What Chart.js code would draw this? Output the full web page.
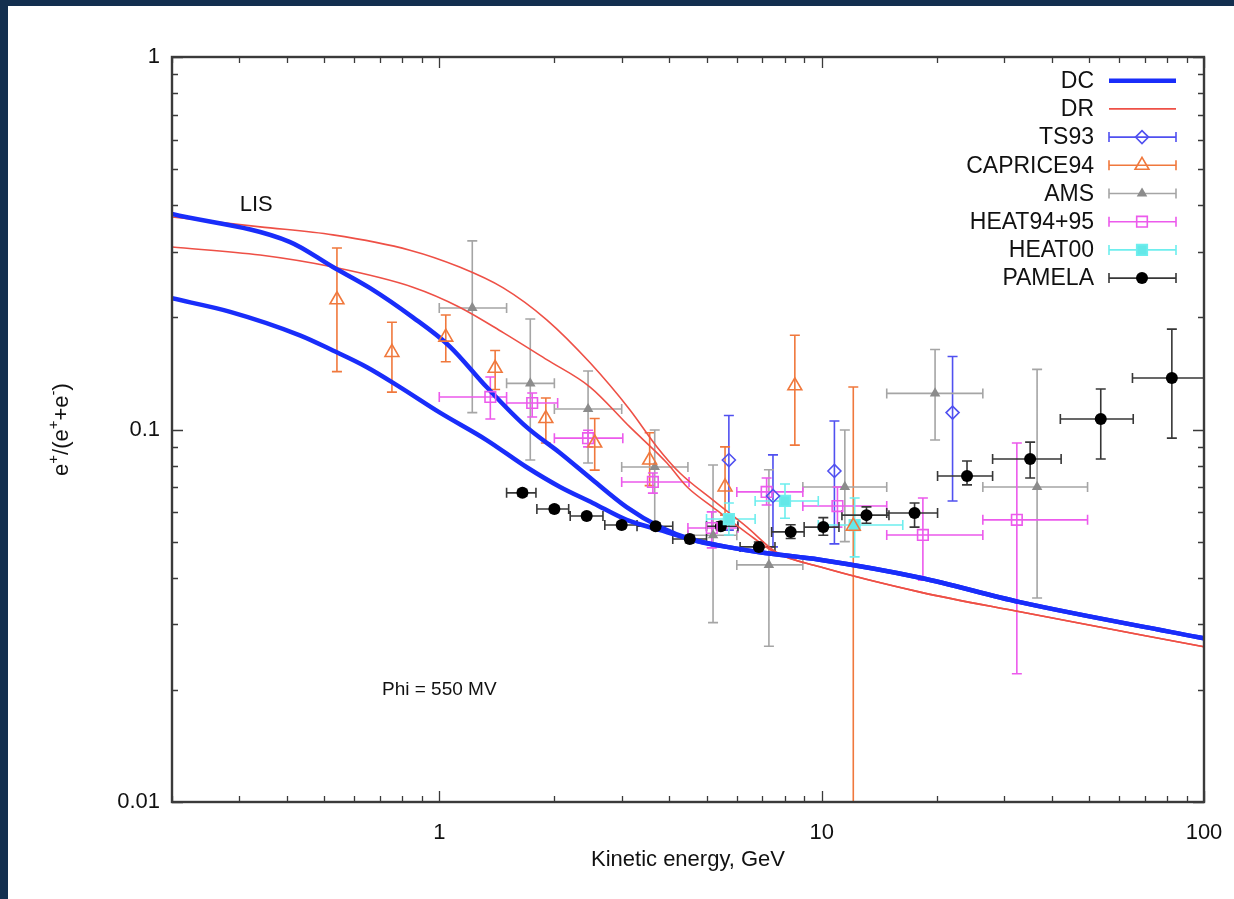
<!DOCTYPE html>
<html>
<head>
<meta charset="utf-8">
<script src="https://cdn.jsdelivr.net/npm/chart.js@4/dist/chart.umd.min.js"></script>
<style>
  html, body { margin: 0; padding: 0; background: #fff; }
</style>
</head>
<body>
<canvas id="chart" width="1234" height="899"></canvas>
<script>
/** DATA */

// model curves: [kinetic energy GeV, e+/(e+ + e-)]
const dcLis = [[0.2, 0.379], [0.406, 0.319], [0.527, 0.273], [0.658, 0.240], [0.853, 0.200], [1.066, 0.167],
    [1.33, 0.130], [1.69, 0.1016], [2.07, 0.0865], [2.52, 0.0732], [3.09, 0.0619], [3.78, 0.0547],
    [4.61, 0.0505], [5.65, 0.0484], [6.89, 0.0468], [9.89, 0.0447], [18.1, 0.0400], [33.0, 0.0344], [100, 0.0275]];
const dcMod = [[0.2, 0.225], [0.284, 0.207], [0.432, 0.179], [0.527, 0.163], [0.647, 0.147], [0.789, 0.130],
    [1.004, 0.111], [1.33, 0.0937], [1.69, 0.0793], [2.07, 0.0701], [2.52, 0.0635], [3.09, 0.0572],
    [3.78, 0.0537], [4.61, 0.0505], [5.65, 0.0484], [6.89, 0.0468], [9.89, 0.0447], [18.1, 0.0400], [33.0, 0.0344], [100, 0.0275]];
const drLis = [[0.2, 0.372], [0.34, 0.350], [0.527, 0.333], [0.838, 0.303], [1.13, 0.273], [1.47, 0.240],
    [1.91, 0.197], [2.48, 0.151], [3.15, 0.113], [3.71, 0.0898], [4.26, 0.0764], [5.19, 0.0647],
    [6.38, 0.0547], [7.6, 0.0469], [9.89, 0.0428], [18.1, 0.0366], [33.0, 0.0324], [100, 0.0261]];
const drMod = [[0.2, 0.309], [0.34, 0.294], [0.527, 0.273], [0.853, 0.241], [1.13, 0.213], [1.47, 0.182],
    [1.91, 0.154], [2.48, 0.130], [3.15, 0.1016], [3.94, 0.0813], [4.45, 0.0701], [5.19, 0.0619],
    [6.38, 0.0527], [7.6, 0.0466], [9.89, 0.0428], [18.1, 0.0366], [33.0, 0.0324], [100, 0.0261]];

// measurements: [E, ratio, E low, E high, ratio low, ratio high]
const ts93 = [
    [5.72, 0.0828, null, null, 0.0537, 0.109],
    [7.46, 0.0663, null, null, 0.0484, 0.0855],
    [10.8, 0.0774, null, null, 0.0493, 0.1054],
    [22.0, 0.111, null, null, 0.0643, 0.157]
];
const caprice94 = [
    [0.540, 0.223, null, null, 0.143, 0.307],
    [0.752, 0.161, null, null, 0.126, 0.194],
    [1.04, 0.177, null, null, 0.152, 0.203],
    [1.40, 0.146, null, null, 0.128, 0.163],
    [1.90, 0.107, null, null, 0.092, 0.1215],
    [2.55, 0.092, null, null, 0.0778, 0.107],
    [3.55, 0.0828, null, null, 0.0707, 0.098],
    [5.59, 0.0701, null, null, 0.0589, 0.0898],
    [8.51, 0.131, null, null, 0.0908, 0.179],
    [12.1, 0.055, null, null, 0.005, 0.130]
];
const ams = [
    [1.22, 0.212, 1.0, 1.5, 0.111, 0.321],
    [1.73, 0.133, 1.5, 2.0, 0.0828, 0.198],
    [2.45, 0.1135, 2.0, 3.0, 0.0813, 0.1436],
    [3.66, 0.0793, 3.0, 4.47, 0.0547, 0.0997],
    [5.2, 0.052, 4.47, 6.0, 0.0303, 0.0803],
    [7.28, 0.0433, 6.0, 8.93, 0.0262, 0.078],
    [11.5, 0.0701, 8.93, 14.8, 0.05, 0.0997],
    [19.8, 0.125, 14.8, 26.4, 0.0937, 0.164],
    [36.6, 0.0701, 26.4, 49.6, 0.0353, 0.145]
];
const heat9495 = [
    [1.36, 0.1223, 1.0, 1.5, 0.1067, 0.1384],
    [1.75, 0.1178, 1.5, 2.04, 0.108, 0.1253],
    [2.45, 0.0948, 2.0, 3.02, 0.0898, 0.0995],
    [3.62, 0.0723, 3.0, 4.5, 0.0675, 0.0764],
    [5.16, 0.0544, 4.47, 6.04, 0.0481, 0.0601],
    [7.18, 0.068, 6.0, 8.93, 0.0627, 0.0741],
    [11.0, 0.0623, 8.93, 14.8, 0.0547, 0.0701],
    [18.4, 0.0521, 14.8, 26.4, 0.0394, 0.0655],
    [32.4, 0.0572, 26.4, 49.6, 0.0221, 0.092]
];
const heat00 = [
    [5.72, 0.0575, 5.0, 6.7, 0.0521, 0.0635],
    [8.02, 0.0643, 6.7, 9.8, 0.0578, 0.0714],
    [12.2, 0.0554, 9.8, 16.3, 0.0455, 0.0655]
];
const pamela = [
    [1.65, 0.0676, 1.5, 1.79, 0.0662, 0.069],
    [2.0, 0.0612, 1.8, 2.18, 0.0601, 0.0624],
    [2.43, 0.0586, 2.2, 2.68, 0.0576, 0.0597],
    [3.0, 0.0554, 2.71, 3.29, 0.0544, 0.0565],
    [3.68, 0.055, 3.29, 4.08, 0.0539, 0.0562],
    [4.52, 0.0508, 4.08, 5.0, 0.0497, 0.052],
    [5.45, 0.055, 5.0, 6.04, 0.0537, 0.0564],
    [6.85, 0.0484, 6.12, 7.55, 0.047, 0.0499],
    [8.3, 0.0531, 7.4, 9.0, 0.051, 0.0555],
    [10.1, 0.0547, 9.0, 11.1, 0.052, 0.058],
    [13.1, 0.0589, 11.3, 15.0, 0.056, 0.062],
    [17.5, 0.0597, 14.8, 20.1, 0.0547, 0.0635],
    [24.0, 0.075, 20.1, 28.0, 0.071, 0.0823],
    [35.1, 0.0833, 28.0, 42.3, 0.0741, 0.0925],
    [53.7, 0.1067, 42.1, 65.3, 0.0833, 0.1285],
    [82.4, 0.1375, 65.0, 110, 0.0948, 0.186]
];

// axis ranges and labelled ticks
const xRange = [0.2, 100];
const yRange = [0.01, 1];
const xTickLabels = [1, 10, 100];
const yTickLabels = [0.01, 0.1, 1];

const FONT = "'Liberation Sans', Arial, Helvetica, sans-serif";

/** DATASETS */

const curve = (label, rows, color, width, inLegend) => ({
    label,
    data: rows.map(([x, y]) => ({ x, y })),
    showLine: true,
    borderColor: color,
    borderWidth: width,
    pointRadius: 0,
    cubicInterpolationMode: 'monotone',
    order: 2,
    inLegend
});

const measured = (label, rows, barColor, pointStyle, radius, fill) => ({
    label,
    data: rows.map(r => ({ x: r[0], y: r[1] })),
    errors: rows,
    barColor,
    pointStyle,
    pointRadius: radius,
    pointHoverRadius: radius,
    pointBorderWidth: 1.6,
    borderColor: barColor,
    backgroundColor: fill,
    order: 1,
    inLegend: true
});

const datasets = [
    curve('DC', dcLis, 'rgb(25,45,250)', 4.5, true),
    curve('DC', dcMod, 'rgb(25,45,250)', 4.5, false),
    curve('DR', drLis, 'rgb(238,80,70)', 1.6, true),
    curve('DR', drMod, 'rgb(238,80,70)', 1.6, false),
    measured('TS93', ts93, 'rgb(80,80,240)', 'rectRot', 6.5, 'rgba(0,0,0,0)'),
    measured('CAPRICE94', caprice94, 'rgb(240,120,60)', 'triangle', 8, 'rgba(0,0,0,0)'),
    measured('AMS', ams, 'rgb(165,165,165)', 'triangle', 4.5, 'rgb(140,140,140)'),
    measured('HEAT94+95', heat9495, 'rgb(236,90,236)', 'rect', 7.5, 'rgba(0,0,0,0)'),
    measured('HEAT00', heat00, 'rgb(110,238,238)', 'rect', 7.5, 'rgb(100,232,232)'),
    measured('PAMELA', pamela, 'rgb(55,55,55)', 'circle', 6, 'rgb(0,0,0)')
];
datasets[datasets.length - 1].pointBorderWidth = 0;
datasets[datasets.length - 4].borderColor = 'rgb(140,140,140)';

/** PLUGINS */

const isDecade = (v, list) => list.some(t => Math.abs(Math.log10(v) - Math.log10(t)) < 1e-6);

const background = {
    id: 'background',
    beforeDraw(chart) {
        const ctx = chart.ctx;
        ctx.save();
        ctx.fillStyle = '#ffffff';
        ctx.fillRect(0, 0, chart.width, chart.height);
        ctx.fillStyle = '#132f4f';
        ctx.fillRect(0, 0, chart.width, 6);
        ctx.fillRect(0, 0, 8, chart.height);
        ctx.restore();
    }
};

const errorBars = {
    id: 'errorBars',
    beforeDatasetsDraw(chart) {
        const { ctx, chartArea: a, scales: { x, y } } = chart;
        const cap = 5;
        ctx.save();
        ctx.beginPath();
        ctx.rect(a.left, a.top, a.right - a.left, a.bottom - a.top);
        ctx.clip();
        ctx.lineWidth = 1.6;
        chart.data.datasets.forEach(ds => {
            if (!ds.errors) return;
            ctx.strokeStyle = ds.barColor;
            ctx.beginPath();
            ds.errors.forEach(([e, r, eLo, eHi, rLo, rHi]) => {
                const px = x.getPixelForValue(e);
                const py = y.getPixelForValue(r);
                const top = y.getPixelForValue(rHi);
                const bottom = y.getPixelForValue(rLo);
                ctx.moveTo(px, top); ctx.lineTo(px, bottom);
                ctx.moveTo(px - cap, top); ctx.lineTo(px + cap, top);
                ctx.moveTo(px - cap, bottom); ctx.lineTo(px + cap, bottom);
                if (eLo !== null) {
                    const left = x.getPixelForValue(eLo);
                    const right = x.getPixelForValue(eHi);
                    ctx.moveTo(left, py); ctx.lineTo(right, py);
                    ctx.moveTo(left, py - cap); ctx.lineTo(left, py + cap);
                    ctx.moveTo(right, py - cap); ctx.lineTo(right, py + cap);
                }
            });
            ctx.stroke();
        });
        ctx.restore();
    }
};

const frameTicks = {
    id: 'frameTicks',
    afterDraw(chart) {
        const { ctx, chartArea: a, scales: { x, y } } = chart;
        ctx.save();
        ctx.strokeStyle = '#3a3a3a';
        ctx.lineWidth = 1.3;
        ctx.beginPath();
        for (let k = -2; k <= 2; k++) {
            for (let m = 1; m <= 9; m++) {
                const v = m * Math.pow(10, k);
                const len = m === 1 ? 11 : 6;
                if (v >= xRange[0] * 0.999 && v <= xRange[1] * 1.001) {
                    const px = Math.round(x.getPixelForValue(v)) + 0.5;
                    ctx.moveTo(px, a.bottom); ctx.lineTo(px, a.bottom - len);
                    ctx.moveTo(px, a.top); ctx.lineTo(px, a.top + len);
                }
                if (v >= yRange[0] * 0.999 && v <= yRange[1] * 1.001) {
                    const py = Math.round(y.getPixelForValue(v)) + 0.5;
                    ctx.moveTo(a.left, py); ctx.lineTo(a.left + len, py);
                    ctx.moveTo(a.right, py); ctx.lineTo(a.right - len, py);
                }
            }
        }
        ctx.stroke();
        ctx.lineWidth = 2.4;
        ctx.strokeRect(a.left, a.top, a.right - a.left, a.bottom - a.top);
        ctx.restore();
    }
};

const drawMarker = (ctx, ds, px, py) => {
    ctx.fillStyle = ds.backgroundColor;
    ctx.strokeStyle = ds.borderColor;
    const opts = { pointStyle: ds.pointStyle, radius: ds.pointRadius, borderWidth: ds.pointBorderWidth, rotation: 0 };
    if (Chart.helpers && Chart.helpers.drawPoint) {
        ctx.lineWidth = ds.pointBorderWidth;
        Chart.helpers.drawPoint(ctx, opts, px, py);
    }
};

const legend = {
    id: 'customLegend',
    afterDraw(chart) {
        const ctx = chart.ctx;
        const textRight = 1094, lineLeft = 1109, lineRight = 1176, mid = 1142;
        let row = 0;
        ctx.save();
        ctx.font = `23px ${FONT}`;
        ctx.textAlign = 'right';
        ctx.textBaseline = 'middle';
        chart.data.datasets.forEach(ds => {
            if (!ds.inLegend) return;
            const ly = 80.7 + row * 28.2;
            ctx.fillStyle = '#111';
            ctx.fillText(ds.label, textRight, ly + 1);
            if (!ds.errors) {
                ctx.strokeStyle = ds.borderColor;
                ctx.lineWidth = ds.borderWidth;
                ctx.beginPath();
                ctx.moveTo(lineLeft, ly); ctx.lineTo(lineRight, ly);
                ctx.stroke();
            } else {
                ctx.strokeStyle = ds.barColor;
                ctx.lineWidth = 1.6;
                ctx.beginPath();
                ctx.moveTo(lineLeft, ly); ctx.lineTo(lineRight, ly);
                ctx.moveTo(lineLeft, ly - 5); ctx.lineTo(lineLeft, ly + 5);
                ctx.moveTo(lineRight, ly - 5); ctx.lineTo(lineRight, ly + 5);
                ctx.stroke();
                drawMarker(ctx, ds, mid, ly);
            }
            row++;
        });
        ctx.restore();
    }
};

const drawSupText = (ctx, parts, big, small) => {
    let total = 0;
    parts.forEach(([t, sup]) => { ctx.font = sup ? small : big; total += ctx.measureText(t).width; });
    let pos = -total / 2;
    parts.forEach(([t, sup]) => {
        ctx.font = sup ? small : big;
        ctx.fillText(t, pos, sup ? -8 : 0);
        pos += ctx.measureText(t).width;
    });
};

const labels = {
    id: 'labels',
    afterDraw(chart) {
        const { ctx, chartArea: a, scales: { x, y } } = chart;
        ctx.save();
        ctx.fillStyle = '#111';
        ctx.textBaseline = 'middle';
        ctx.textAlign = 'center';
        ctx.font = `22px ${FONT}`;
        ctx.fillText('Kinetic energy, GeV', (a.left + a.right) / 2, 860);
        ctx.fillText('LIS', x.getPixelForValue(0.332), y.getPixelForValue(0.401));
        ctx.font = `19px ${FONT}`;
        ctx.fillText('Phi = 550 MV', x.getPixelForValue(1.0), y.getPixelForValue(0.0200));

        ctx.translate(62, (a.top + a.bottom) / 2);
        ctx.rotate(-Math.PI / 2);
        ctx.textAlign = 'left';
        drawSupText(ctx, [['e', false], ['+', true], ['/(e', false], ['+', true], ['+e', false], ['-', true], [')', false]],
            `22px ${FONT}`, `15px ${FONT}`);
        ctx.restore();
    }
};

/** CHART */

const tickFont = { family: FONT, size: 22 };

new Chart(document.getElementById('chart'), {
    type: 'scatter',
    data: { datasets },
    options: {
        responsive: false,
        animation: false,
        devicePixelRatio: 1,
        layout: { padding: { left: 0, top: 57, right: 30, bottom: 0 } },
        plugins: { legend: { display: false }, tooltip: { enabled: false } },
        scales: {
            x: {
                type: 'logarithmic',
                min: xRange[0],
                max: xRange[1],
                grid: { display: false, drawTicks: false },
                border: { display: false },
                afterFit: s => { s.height = 97; s.paddingLeft = 0; s.paddingRight = 0; },
                ticks: {
                    autoSkip: false,
                    maxRotation: 0,
                    padding: 18,
                    color: '#111',
                    font: tickFont,
                    callback: v => isDecade(v, xTickLabels) ? String(Math.round(v)) : ''
                }
            },
            y: {
                type: 'logarithmic',
                min: yRange[0],
                max: yRange[1],
                grid: { display: false, drawTicks: false },
                border: { display: false },
                afterFit: s => { s.width = 172; s.paddingTop = 0; s.paddingBottom = 0; },
                ticks: {
                    autoSkip: false,
                    padding: 12,
                    color: '#111',
                    font: tickFont,
                    callback: v => isDecade(v, yTickLabels) ? String(yTickLabels.find(t => isDecade(v, [t]))) : ''
                }
            }
        }
    },
    plugins: [background, errorBars, frameTicks, legend, labels]
});
</script>
</body>
</html>
